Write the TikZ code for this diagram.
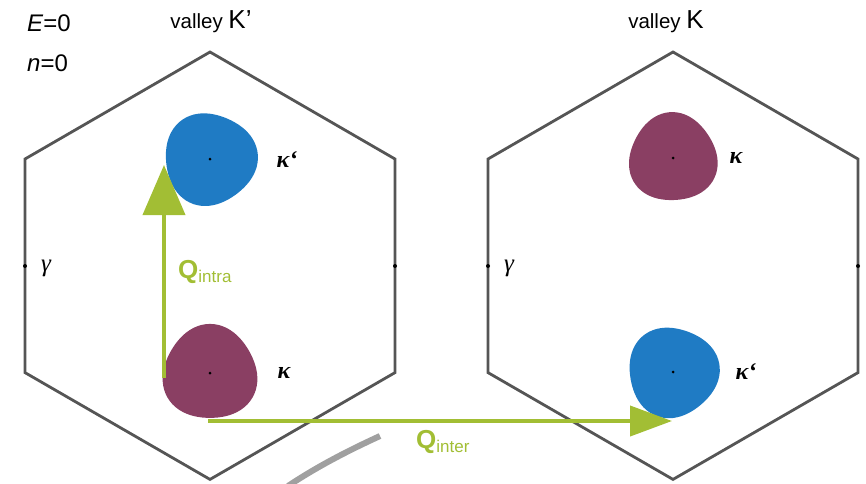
\documentclass[tikz,border=0pt]{standalone}
\usepackage{fontspec}
\setmainfont{Liberation Sans}
\newfontfamily\grk{Liberation Serif}
\usetikzlibrary{arrows.meta}
\definecolor{hexgray}{HTML}{555555}
\definecolor{kblue}{HTML}{1F7BC4}
\definecolor{kpurple}{HTML}{8A3F63}
\definecolor{qgreen}{HTML}{A2BE34}
\definecolor{arcgray}{HTML}{A0A0A0}
\newcommand\myblob[5]{%
  \fill[#1] plot[smooth cycle, domain=0:350, samples=36, variable=\t]
    ({#2+#4*(1+0.045*cos(3*\t+#5))*cos(\t)}, {#3+#4*(1+0.045*cos(3*\t+#5))*sin(\t)});
  \fill[black] (#2,#3) circle (1.5);}
\tikzset{
  hexline/.style={draw=hexgray, line width=2.8pt, line join=miter},
  qarrow/.style={draw=qgreen, line width=4pt},
  klabel/.style={font=\grk\itshape\bfseries\fontsize{24}{26}\selectfont},
  qlabel/.style={text=qgreen, font=\bfseries\fontsize{26}{28}\selectfont},
  toplabel/.style={font=\fontsize{20.5}{24}\selectfont},
}
\begin{document}
\begin{tikzpicture}[x=1pt,y=-1pt]
\useasboundingbox (0,0) rectangle (866,483);
% hexagons
\foreach \cx in {210,673}{
  \draw[hexline] (\cx,52) -- (\cx+185,159) -- (\cx+185,372.6) -- (\cx,479.4) -- (\cx-185,372.6) -- (\cx-185,159) -- cycle;
  \fill[black] (\cx-185,266) circle (2);
  \fill[black] (\cx+185,266) circle (2);
}
% gray arc
\draw[arcgray, line width=6pt] (380,436) .. controls (345,452) and (315,468) .. (288,486);
% blobs
\myblob{kblue}{210}{159}{46}{20}
\myblob{kpurple}{210}{373}{47}{-90}
\myblob{kpurple}{673}{158}{44}{-80}
\myblob{kblue}{673}{372}{45}{30}
\coordinate (kp1) at (210,159);
\coordinate (k1) at (210,373);
\coordinate (kp2) at (673,372);
% labels
\node[klabel] (l1) at (287,160) {κ\textquoteleft};
\node[klabel] (l2) at (284,373) {κ};
\node[klabel] (l3) at (736,158) {κ};
\node[klabel] (l4) at (746,372) {κ\textquoteleft};
\node[klabel, font=\grk\itshape\fontsize{25}{27}\selectfont] (g1) at (46,268) {γ};
\node[klabel, font=\grk\itshape\fontsize{25}{27}\selectfont] (g2) at (509,268) {γ};
% arrows
\coordinate (qa1) at (164,378);
\coordinate (qa2) at (164,165);
\draw[qarrow, -{Triangle[length=50pt,width=42pt]}] (qa1) -- (qa2);
\coordinate (qb1) at (208,421);
\coordinate (qb2) at (672,421);
\draw[qarrow, -{Triangle[length=42pt,width=30pt]}] (qb1) -- (qb2);
\node[qlabel, anchor=west, inner sep=0] (qi) at (178,272) {Q\textsubscript{\mdseries\fontsize{17}{18}\selectfont intra}};
\node[qlabel, anchor=west, inner sep=0] (qe) at (416,442) {Q\textsubscript{\mdseries\fontsize{17}{18}\selectfont inter}};
% top texts
\node[anchor=west, inner sep=0, font=\fontsize{24}{26}\selectfont] (e0) at (27,23) {\textit{E}=0};
\node[anchor=west, inner sep=0, font=\fontsize{24}{26}\selectfont] (n0) at (27,63) {\textit{n}=0};
\node[toplabel, inner sep=0] (vk1) at (211,22) {valley {\fontsize{26}{28}\selectfont K\textquoteright}};
\node[toplabel, inner sep=0] (vk2) at (666,22) {valley {\fontsize{26}{28}\selectfont K}};
\end{tikzpicture}
\end{document}
